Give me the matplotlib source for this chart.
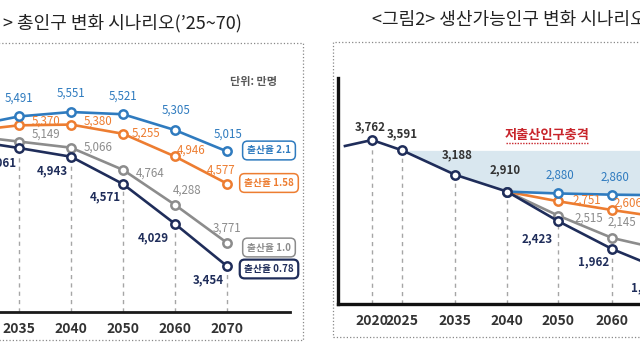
import matplotlib
matplotlib.use("Agg")
import matplotlib.pyplot as plt
from matplotlib.patches import Rectangle
import numpy as np

plt.rcParams['font.family'] = ['Noto Sans CJK KR', 'DejaVu Sans']

# ---------------- data ----------------
# left: total population scenarios (10k persons)
pop_years = ["2030", "2035", "2040", "2050", "2060", "2070"]
pop_tfr_21 = [5350, 5491, 5551, 5521, 5305, 5015]
pop_tfr_158 = [5290, 5370, 5380, 5255, 4946, 4577]
pop_tfr_10 = [5230, 5149, 5066, 4764, 4288, 3771]
pop_tfr_078 = [5170, 5061, 4943, 4571, 4029, 3454]

# right: working-age population scenarios (10k persons)
wa_years = ["2015", "2020", "2025", "2035", "2040", "2050", "2060", "2070"]
wa_base = [3663, 3762, 3591, 3188, 2910, 2423, 1962, 1610]   # TFR 0.78 path
wa_split_years = ["2040", "2050", "2060", "2070"]
wa_tfr_21 = [2910, 2880, 2860, 2850]
wa_tfr_158 = [2910, 2751, 2606, 2480]
wa_tfr_10 = [2910, 2515, 2145, 1950]

legend_labels = ["출산율 2.1", "출산율 1.58", "출산율 1.0", "출산율 0.78"]

# ---------------- layout / style ----------------
W, H = 640, 350
BLUE, ORANGE, GRAY, NAVY = "#2f7bbf", "#ed7d31", "#8c8c8c", "#1f2d5a"
DARK = "#333333"

# x position of each right-panel year (axis is not linear in time)
wa_xpos = [-0.52, 0.0, 0.58, 1.6, 2.6, 3.58, 4.62, 5.62]


def px_box(x0, y0, x1, y1):
    return [x0 / W, 1 - y1 / H, (x1 - x0) / W, (y1 - y0) / H]


def line(ax, x, y, color, skip_first=False):
    ax.plot(x, y, color=color, lw=1.9, marker='o', ms=6, mfc='white',
            mec=color, mew=1.8, zorder=3,
            markevery=slice(1, None) if skip_first else None)


def labels(ax, x, vals, offs, color, weight='medium'):
    for xi, v, (dx, dy) in zip(x, vals, offs):
        if dx is None:
            continue
        ax.annotate(f"{v:,}", (xi, v), xytext=(dx, -dy), textcoords='offset pixels',
                    ha='center', va='center', fontsize=8.3, color=color,
                    fontweight=weight, zorder=5, annotation_clip=False)


fig = plt.figure(figsize=(6.4, 3.5), dpi=100)

# dotted frames
fig.add_artist(Rectangle((-5 / W, 1 - 340 / H), 308 / W, 297 / H, transform=fig.transFigure,
                         fill=False, ls=':', lw=0.9, ec='#888888'))
fig.add_artist(Rectangle((333 / W, 1 - 337 / H), 400 / W, 295 / H, transform=fig.transFigure,
                         fill=False, ls=':', lw=0.9, ec='#888888'))

fig.text(3 / W, 1 - 23 / H, "> 총인구 변화 시나리오(’25~70)", fontsize=13,
         ha='left', va='center', color='#222222')
fig.text(372 / W, 1 - 20 / H, "<그림2> 생산가능인구 변화 시나리오", fontsize=13,
         ha='left', va='center', color='#222222')

# ---------------- left panel ----------------
ax1 = fig.add_axes(px_box(0, 43, 290, 312))
x1 = np.arange(len(pop_years))

ax1.vlines(x1[1:], 2830, np.array(pop_tfr_078[1:]) - 60, colors='#a6a6a6',
           linestyles=(0, (3, 3)), lw=1, zorder=1)
line(ax1, x1, pop_tfr_10, GRAY)
line(ax1, x1, pop_tfr_078, NAVY)
line(ax1, x1, pop_tfr_158, ORANGE)
line(ax1, x1, pop_tfr_21, BLUE)

labels(ax1, x1, pop_tfr_21, [(None, 0), (0, -18), (0, -19), (0, -18), (1, -20), (1, -17)], BLUE)
labels(ax1, x1, pop_tfr_158, [(None, 0), (27, -4), (27, -3), (23, -1), (16, -6), (-6, -13)], ORANGE)
labels(ax1, x1, pop_tfr_10, [(None, 0), (27, -7), (27, -1), (27, 3), (12, -15), (0, -15)], GRAY)
labels(ax1, x1, pop_tfr_078, [(None, 0), (-18, 15), (-19, 14), (-18, 13), (-22, 14), (-19, 14)],
       NAVY, weight='bold')

ax1.set_xticks(x1[1:])
ax1.set_xticklabels(pop_years[1:], fontsize=10, fontweight='bold', color=DARK)
ax1.set_xlim(1 - 19 / 52, 1 + 271 / 52)
ax1.set_ylim(2830, 6490)
ax1.tick_params(axis='x', length=0, pad=7)
ax1.set_yticks([])
for s in ['top', 'right', 'left']:
    ax1.spines[s].set_visible(False)
ax1.spines['bottom'].set_linewidth(2)
ax1.spines['bottom'].set_color('#1a1a1a')
ax1.patch.set_alpha(0)

fig.text(253 / W, 1 - 82 / H, "단위: 만명", fontsize=8, fontweight='bold',
         ha='center', va='center', color='#595959')

box_y = [150.5, 183, 247.5, 269]
box_colors = [BLUE, ORANGE, GRAY, NAVY]
for lab, yy, c in zip(legend_labels, box_y, box_colors):
    fig.text(269 / W, 1 - yy / H, lab, fontsize=7, fontweight='bold', color=c,
             ha='center', va='center',
             bbox=dict(boxstyle="round,pad=0.45,rounding_size=0.5", fc='white', ec=c,
                       lw=1.6 if c == NAVY else 1.1))

# ---------------- right panel ----------------
ax2 = fig.add_axes(px_box(338, 78, 640, 304))

# shaded shock area: from 2025 level down to TFR 2.1 path
shade_x = wa_xpos[2:]
shade_low = wa_base[2:5] + wa_tfr_21[1:]
ax2.fill_between(shade_x, wa_base[2], shade_low, color='#d9e7ef', lw=0, zorder=0)

ax2.vlines(wa_xpos[1:], 1056, np.array(wa_base[1:]) - 50, colors='#a6a6a6',
           linestyles=(0, (3, 3)), lw=1, zorder=1)

split_x = wa_xpos[4:]
line(ax2, split_x, wa_tfr_10, GRAY)
line(ax2, split_x, wa_tfr_158, ORANGE)
line(ax2, split_x, wa_tfr_21, BLUE)
line(ax2, wa_xpos, wa_base, NAVY, skip_first=True)

labels(ax2, wa_xpos[:5], wa_base[:5], [(None, 0), (-2, -13), (0, -17), (2, -20), (-2, -22)],
       DARK, weight='bold')
labels(ax2, wa_xpos[5:], wa_base[5:], [(-21, 18), (-19, 13), (-18, 17)], NAVY, weight='bold')
labels(ax2, split_x, wa_tfr_21, [(None, 0), (2, -18), (3, -18), (0, -18)], BLUE)
labels(ax2, split_x, wa_tfr_158, [(None, 0), (29, -1), (16, -7), (16, -7)], ORANGE)
labels(ax2, split_x, wa_tfr_10, [(None, 0), (31, 3), (10, -16), (10, -16)], GRAY)

ax2.text(0.692, 0.748, "저출산인구충격", transform=ax2.transAxes, fontsize=9.5,
         fontweight='bold', color='#c8242b', ha='center', va='center')
ax2.plot([0.555, 0.83], [0.712, 0.712], transform=ax2.transAxes, color='#c8242b',
         lw=1, ls=(0, (1, 1)))

ax2.set_xticks(wa_xpos[1:])
ax2.set_xticklabels(wa_years[1:], fontsize=10, fontweight='bold', color=DARK)
ax2.set_xlim(-34 / 52, 268 / 52)
ax2.set_ylim(1056, 4785)
ax2.tick_params(axis='x', length=0, pad=7.5)
ax2.set_yticks([])
for s in ['top', 'right']:
    ax2.spines[s].set_visible(False)
for s in ['left', 'bottom']:
    ax2.spines[s].set_linewidth(2.4)
    ax2.spines[s].set_color('#111111')
ax2.patch.set_alpha(0)

fig.savefig("out.png", dpi=100)
